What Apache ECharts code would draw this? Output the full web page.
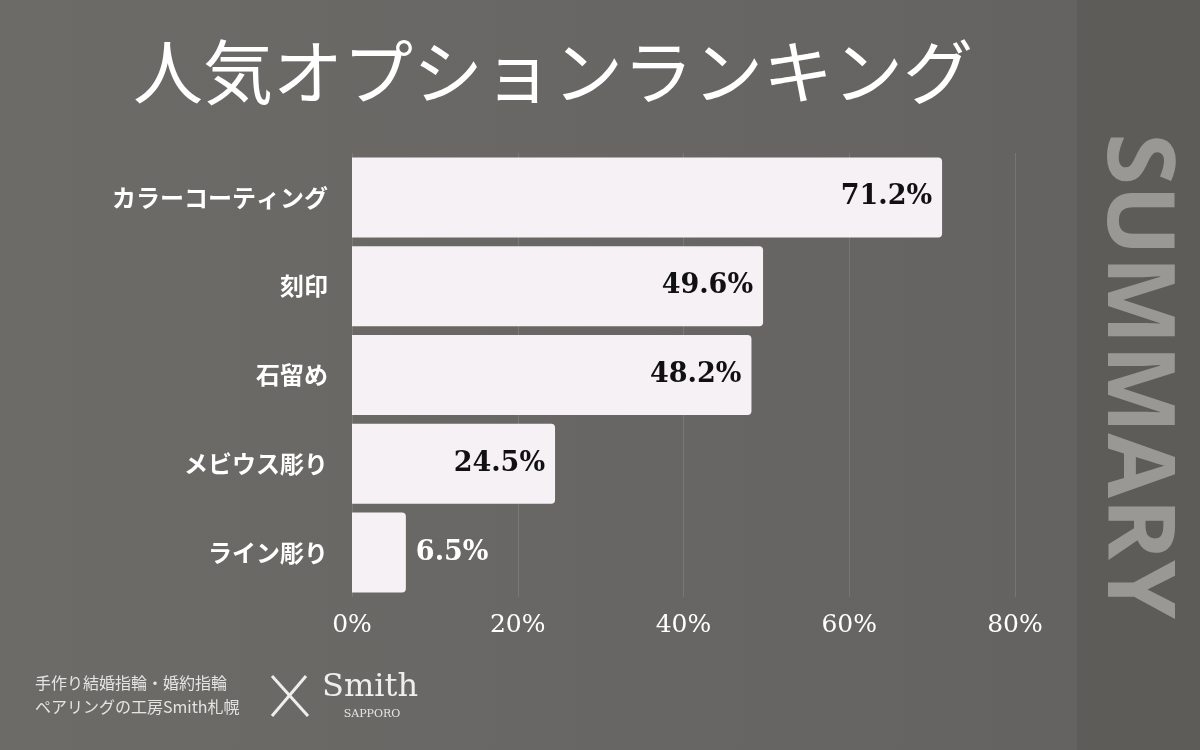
<!DOCTYPE html>
<html><head><meta charset="utf-8">
<script src="https://cdn.jsdelivr.net/npm/echarts@6/dist/echarts.min.js"></script>
<style>html,body{margin:0;padding:0;}#c{width:1200px;height:750px;}</style>
</head><body><div id="c"></div>
<script>
const categories = ['カラーコーティング','刻印','石留め','メビウス彫り','ライン彫り'];
const values = [71.2, 49.6, 48.2, 24.5, 6.5];
const xTicks = [0, 20, 40, 60, 80];
const JP = '"Noto Sans CJK JP"';
const chart = echarts.init(document.getElementById('c'));
chart.setOption({
  backgroundColor: {type:'linear',x:0,y:0,x2:1,y2:0,colorStops:[{offset:0,color:'#6d6b68'},{offset:1,color:'#646260'}]},
  graphic: [
    {type:'rect', shape:{x:1077,y:0,width:123,height:750}, style:{fill:'#5e5c59'}, z:-1},
    {type:'text', x:1135, y:376, rotation:-Math.PI/2,
      style:{text:'SUMMARY', font:'bold 94px "Open Sans"', fill:'#9a9895', align:'center', verticalAlign:'middle'}},
    {type:'text', x:553, y:72, style:{text:'人気オプションランキング', font:'400 70px '+JP, fill:'#ffffff', align:'center', verticalAlign:'middle'}},
    {type:'text', x:35, y:683, style:{text:'手作り結婚指輪・婚約指輪', font:'16px '+JP, fill:'#e6e4e2', verticalAlign:'middle'}},
    {type:'text', x:35, y:707, style:{text:'ペアリングの工房Smith札幌', font:'16px '+JP, fill:'#e6e4e2', verticalAlign:'middle'}},
    {type:'text', x:370, y:688, style:{text:'Smith', font:'32px "DejaVu Serif"', fill:'#f0eeec', align:'center', verticalAlign:'middle'}},
    {type:'text', x:372, y:714, style:{text:'SAPPORO', font:'11px "DejaVu Serif"', fill:'#e6e4e2', align:'center', verticalAlign:'middle'}},
    {type:'line', shape:{x1:272,y1:676,x2:308,y2:716}, style:{stroke:'#f0eeec',lineWidth:3}},
    {type:'line', shape:{x1:306,y1:676,x2:272,y2:716}, style:{stroke:'#f0eeec',lineWidth:3}}
  ],
  grid: {left:352, right:185, top:153, bottom:153, containLabel:false},
  xAxis: {type:'value', min:0, max:80, interval:20,
    axisLine:{show:false}, axisTick:{show:false},
    splitLine:{lineStyle:{color:'rgba(255,255,255,0.12)', width:1}},
    axisLabel:{color:'#ffffff', fontSize:25, fontFamily:'"DejaVu Serif"', margin:16,
      formatter: v => xTicks.includes(v) ? v + '%' : ''}
  },
  yAxis: {type:'category', data:categories, inverse:true,
    axisLine:{show:false}, axisTick:{show:false},
    axisLabel:{color:'#ffffff', fontSize:24, fontWeight:'bold', fontFamily:JP, margin:24}
  },
  series: [{type:'bar', data:values.map((v,i)=>({value:v,
      label: v < 15 ? {position:'right', color:'#ffffff'} : {position:'insideRight', color:'#111111'}})),
    barWidth:80,
    itemStyle:{color:'#f6f1f4', borderRadius:[0,4,4,0]},
    label:{show:true, formatter: p => p.value.toFixed(1) + '%', fontSize:27, fontWeight:'bold', fontFamily:'"DejaVu Serif"', distance:10}
  }]
});
</script></body></html>
